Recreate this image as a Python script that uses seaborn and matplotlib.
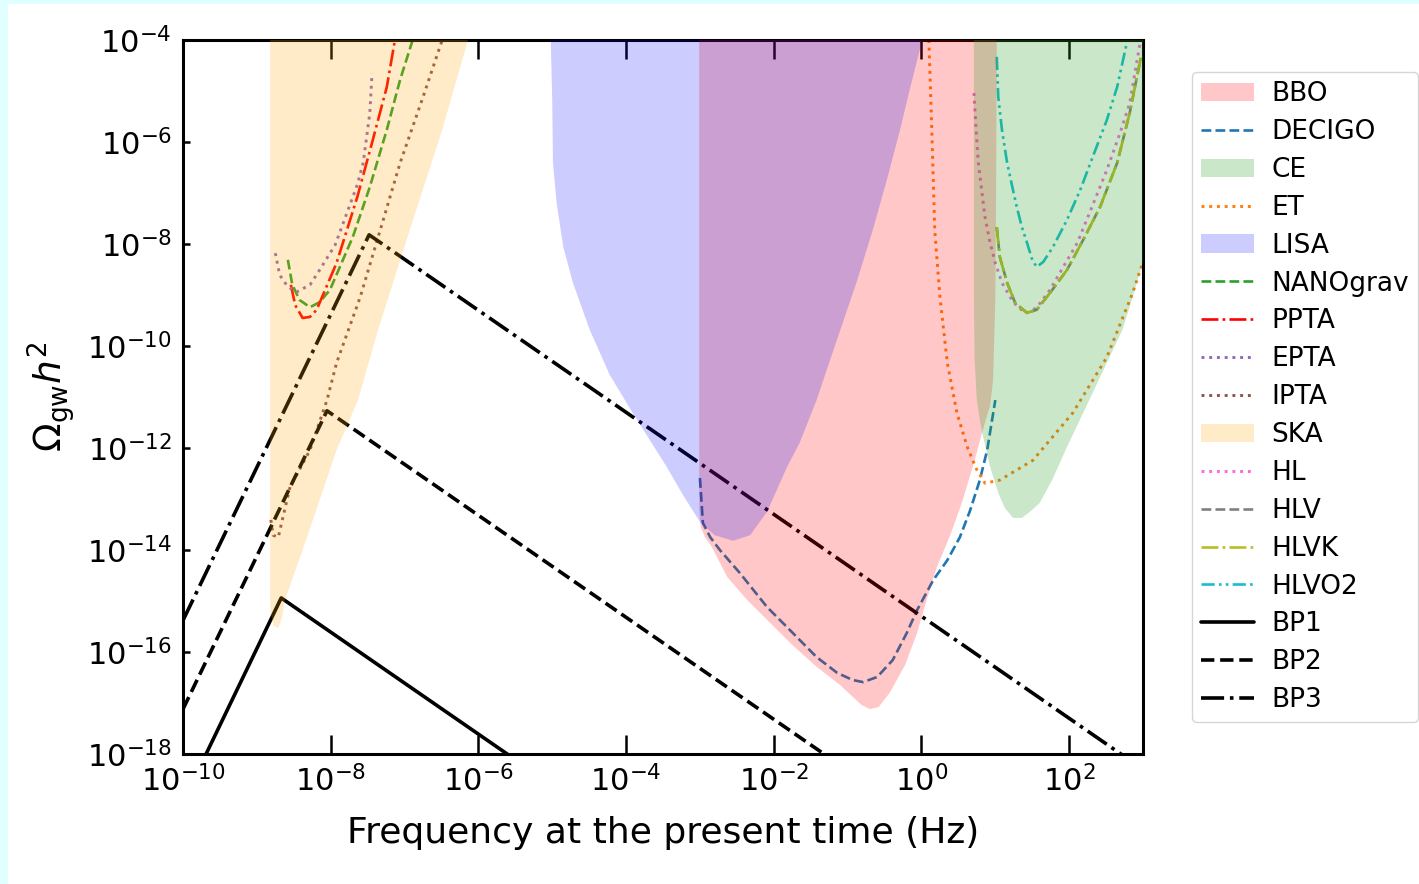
import numpy as np
import matplotlib
matplotlib.use("Agg")
import matplotlib.pyplot as plt
from matplotlib.patches import Rectangle
from matplotlib.ticker import NullLocator
import seaborn as sns

# values as log10(f / Hz) and log10(Omega_gw h^2)
# filled sensitivity regions (outline points, top edge closes at 1e-4)
bbo_lf = [-3.01, -3.01, -2.99, -2.93, -2.84, -2.63, -2.36, -2.09, -1.75, -1.42,
          -1.10, -0.93, -0.81, -0.70, -0.58, -0.43, -0.22, -0.06, 0.07, 0.21,
          0.39, 0.56, 0.72, 0.83, 0.93, 0.97, 1.00, 1.01, 1.02]
bbo_lo = [-4.0, -13.22, -13.55, -13.75, -13.94, -14.53, -14.98, -15.37, -15.86, -16.29,
          -16.65, -16.88, -17.04, -17.12, -17.08, -16.80, -16.25, -15.63, -14.98, -14.33,
          -13.71, -13.02, -12.24, -11.65, -11.16, -10.67, -9.10, -7.14, -4.0]

ce_lf = [0.71, 0.71, 0.72, 0.75, 0.79, 0.83, 0.93, 1.04, 1.13, 1.24, 1.36, 1.47, 1.60,
         1.77, 1.97, 2.24, 2.51, 2.72, 2.86, 3.0, 3.0]
ce_lo = [-4.0, -9.10, -10.27, -11.06, -11.45, -11.75, -12.37, -12.88, -13.18, -13.37,
         -13.37, -13.25, -13.08, -12.63, -11.98, -11.16, -10.33, -9.69, -9.04, -8.35, -4.0]

lisa_lf = [-5.02, -5.00, -4.99, -4.94, -4.85, -4.72, -4.49, -4.22, -3.92, -3.68, -3.45,
           -3.23, -3.00, -2.80, -2.55, -2.32, -2.09, -1.82, -1.65, -1.42, -1.33, -1.10,
           -0.87, -0.66, -0.47, -0.29, -0.16, 0.01]
lisa_lo = [-4.0, -5.18, -6.41, -7.20, -8.06, -8.76, -9.69, -10.57, -11.29, -11.84, -12.37,
           -12.92, -13.45, -13.71, -13.82, -13.71, -13.25, -12.37, -11.90, -11.06, -10.67, -9.69,
           -8.71, -7.73, -6.75, -5.76, -4.98, -4.0]

ska_lf = [-8.82, -8.82, -8.81, -8.77, -8.71, -8.66, -8.62, -8.38, -8.15, -7.92, -7.63,
          -7.36, -6.93, -6.49, -6.14]
ska_lo = [-4.0, -14.98, -15.27, -15.49, -15.53, -15.33, -14.98, -14.0, -13.02, -12.04,
          -11.06, -9.69, -7.73, -5.76, -4.0]

# sensitivity curves
decigo_lf = [-3.00, -2.98, -2.96, -2.86, -2.73, -2.46, -2.09, -1.74, -1.42, -1.14, -0.93,
             -0.79, -0.60, -0.39, -0.20, -0.06, 0.16, 0.35, 0.52, 0.66, 0.79, 0.89, 1.00]
decigo_lo = [-12.59, -13.02, -13.47, -13.75, -14.00, -14.45, -15.12, -15.63, -16.10, -16.41,
             -16.55, -16.59, -16.49, -16.16, -15.63, -15.18, -14.59, -14.20, -13.75, -13.22,
             -12.63, -12.04, -11.06]

et_lf = [0.10, 0.14, 0.18, 0.25, 0.35, 0.48, 0.62, 0.75, 0.86, 1.06, 1.51, 2.05, 2.51, 2.86, 3.0]
et_lo = [-4.0, -5.76, -7.73, -9.04, -10.33, -11.31, -11.98, -12.43, -12.69, -12.63, -12.24,
         -11.31, -10.22, -8.96, -8.35]

nano_lf = [-8.58, -8.52, -8.42, -8.28, -8.15, -8.01, -7.70, -7.47, -7.24, -7.06, -6.89]
nano_lo = [-8.31, -8.80, -9.10, -9.24, -9.14, -8.90, -7.86, -6.88, -5.76, -4.78, -4.00]

ppta_lf = [-8.54, -8.48, -8.38, -8.28, -8.19, -7.92, -7.64, -7.43, -7.24, -7.13]
ppta_lo = [-8.80, -9.20, -9.45, -9.43, -9.29, -8.37, -7.08, -5.96, -4.92, -4.00]

epta_lf = [-8.75, -8.69, -8.58, -8.46, -8.28, -8.15, -7.94, -7.78, -7.64, -7.56, -7.47, -7.44]
epta_lo = [-8.18, -8.61, -8.84, -8.94, -8.80, -8.51, -8.02, -7.39, -6.84, -6.41, -5.43, -4.65]

ipta_lf = [-8.81, -8.78, -8.71, -8.55, -8.28, -8.05, -7.92, -7.60, -7.33, -7.06, -6.75, -6.49]
ipta_lo = [-13.41, -13.71, -13.75, -12.76, -12.04, -11.06, -10.33, -9.04, -7.73, -6.41, -5.12, -4.00]

hl_lf = [0.71, 0.74, 0.77, 0.82, 0.86, 0.93, 1.00, 1.09, 1.20, 1.31, 1.43, 1.56, 1.74,
         1.92, 2.11, 2.31, 2.51, 2.69, 2.82, 2.96]
hl_lo = [-5.04, -5.76, -6.41, -7.00, -7.47, -7.98, -8.37, -8.76, -9.04, -9.25, -9.35, -9.25,
         -8.90, -8.45, -7.98, -7.27, -6.55, -5.82, -5.24, -4.06]

hlv_lf = [1.02, 1.06, 1.16, 1.27, 1.43, 1.56, 1.74, 1.97, 2.19, 2.42, 2.65, 2.82, 2.97]
hlv_lo = [-7.67, -8.25, -8.76, -9.16, -9.35, -9.29, -8.96, -8.51, -7.92, -7.27, -6.41, -5.43, -4.35]

hlvk_lf = [1.02, 1.06, 1.16, 1.27, 1.43, 1.56, 1.74, 1.97, 2.19, 2.42, 2.65, 2.82, 2.97]
hlvk_lo = [-7.67, -8.25, -8.76, -9.16, -9.35, -9.29, -8.96, -8.51, -7.92, -7.27, -6.41, -5.43, -4.35]

hlvo2_lf = [1.02, 1.04, 1.09, 1.16, 1.23, 1.29, 1.36, 1.43, 1.50, 1.56, 1.65, 1.78, 1.97,
            2.15, 2.32, 2.51, 2.65, 2.78]
hlvo2_lo = [-4.33, -5.12, -5.76, -6.41, -6.88, -7.27, -7.67, -7.98, -8.31, -8.45, -8.35,
            -8.06, -7.53, -6.94, -6.29, -5.57, -4.92, -4.06]

# benchmark spectra (broken power laws: left end, peak, right end)
bp1_lf = [-10.0, -8.67, 3.0]
bp1_lo = [-18.94, -14.94, -26.61]
bp2_lf = [-10.0, -8.05, 3.0]
bp2_lo = [-17.12, -11.27, -22.32]
bp3_lf = [-10.0, -7.48, 3.0]
bp3_lo = [-15.38, -7.82, -18.30]


def p10(v):
    return np.power(10.0, np.array(v))


sns.set_style("white")
plt.rcParams['font.family'] = ['DejaVu Sans']
for k in ['text.color', 'axes.labelcolor', 'xtick.color', 'ytick.color']:
    plt.rcParams[k] = 'black'

fig = plt.figure(figsize=(14.19, 8.84), dpi=100, facecolor='#e0ffff')
fig.add_artist(Rectangle((8 / 1419, 0), 1, 1 - 4 / 884, transform=fig.transFigure,
                         facecolor='white', edgecolor='none', zorder=-10))
ax = fig.add_axes([183 / 1419, 1 - 754 / 884, 960 / 1419, 714 / 884])
ax.set_xscale('log')
ax.set_yscale('log')


def region(lf, lo, color, alpha, label):
    ax.fill(p10(lf), p10(lo), color=color, alpha=alpha, lw=0, label=label, zorder=3)


def curve(lf, lo, color, ls, label, lw=1.9):
    sns.lineplot(x=p10(lf), y=p10(lo), ax=ax, color=color, linestyle=ls,
                 linewidth=lw, label=label, sort=False, estimator=None)


region(bbo_lf, bbo_lo, 'red', 0.22, 'BBO')
curve(decigo_lf, decigo_lo, 'tab:blue', '--', 'DECIGO')
region(ce_lf, ce_lo, 'tab:green', 0.25, 'CE')
curve(et_lf, et_lo, 'tab:orange', ':', 'ET', lw=2.1)
region(lisa_lf, lisa_lo, 'blue', 0.2, 'LISA')
curve(nano_lf, nano_lo, 'tab:green', '--', 'NANOgrav')
curve(ppta_lf, ppta_lo, 'red', '-.', 'PPTA')
curve(epta_lf, epta_lo, 'tab:purple', ':', 'EPTA', lw=2.1)
curve(ipta_lf, ipta_lo, 'tab:brown', ':', 'IPTA', lw=2.1)
region(ska_lf, ska_lo, 'orange', 0.22, 'SKA')
curve(hl_lf, hl_lo, '#ff66dd', ':', 'HL', lw=2.1)
curve(hlv_lf, hlv_lo, 'grey', '--', 'HLV')
curve(hlvk_lf, hlvk_lo, 'tab:olive', '-.', 'HLVK')
curve(hlvo2_lf, hlvo2_lo, 'tab:cyan', (0, (5, 1.6, 1, 1.6, 1, 1.6)), 'HLVO2')
curve(bp1_lf, bp1_lo, 'black', '-', 'BP1', lw=2.6)
curve(bp2_lf, bp2_lo, 'black', '--', 'BP2', lw=2.6)
curve(bp3_lf, bp3_lo, 'black', '-.', 'BP3', lw=2.6)

ax.set_xlim(1e-10, 1e3)
ax.set_ylim(1e-18, 1e-4)
ax.set_xticks([10.0 ** k for k in range(-10, 3, 2)])
ax.set_yticks([10.0 ** k for k in range(-18, -3, 2)])
ax.xaxis.set_minor_locator(NullLocator())
ax.yaxis.set_minor_locator(NullLocator())
ax.tick_params(axis='x', direction='in', length=14, width=1.8, top=True, bottom=True,
               labelsize=22, pad=8, color='black')
ax.tick_params(axis='y', direction='in', length=5, width=1.8, left=True, right=False,
               labelsize=22, pad=8, color='black')
for s in ax.spines.values():
    s.set_linewidth(2.2)
    s.set_color('black')

ax.set_xlabel('Frequency at the present time (Hz)', fontsize=26, labelpad=13)
ax.set_ylabel(r'$\Omega_{\rm gw}h^2$', fontsize=27, labelpad=7)

ax.legend(loc='upper left', bbox_to_anchor=(1192 / 1419, 1 - 72 / 884),
          bbox_transform=fig.transFigure, borderaxespad=0, fontsize=19,
          labelspacing=0.45, handlelength=2.0, handletextpad=0.65, borderpad=0.35,
          frameon=True)

fig.savefig('out.png', dpi=100, facecolor=fig.get_facecolor())
